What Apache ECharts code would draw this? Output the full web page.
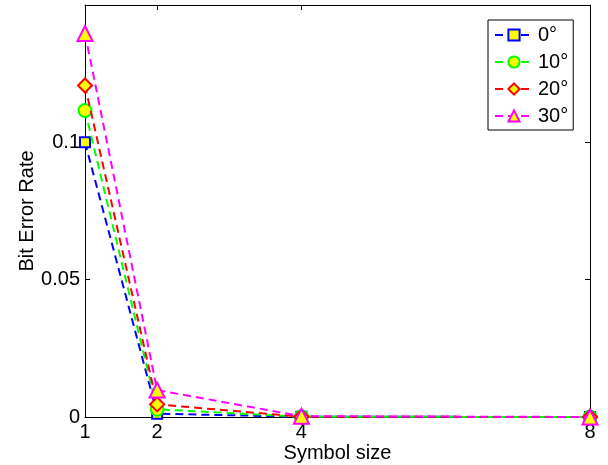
<!DOCTYPE html>
<html>
<head>
<meta charset="utf-8">
<script src="https://cdn.jsdelivr.net/npm/echarts@6/dist/echarts.min.js"></script>
<style>
  html, body { margin: 0; padding: 0; background: #fff; }
  #chart { width: 608px; height: 465px; }
</style>
</head>
<body>
<div id="chart"></div>
<script>
// symbol sizes on the x axis
const symbolSizes = [1, 2, 4, 8]
const angleNames = ['0°', '10°', '20°', '30°']

// bit error rate per angle
const ber0 = [0.1, 0.0012, 0.0001, 0]
const ber10 = [0.1116, 0.0028, 0.0001, 0]
const ber20 = [0.1207, 0.0046, 0.0001, 0]
const ber30 = [0.1396, 0.0098, 0.0003, 0]

const xTicks = [1, 2, 4, 8]
const yTicks = [0, 0.05, 0.1]

const font = 'Liberation Sans, Arial, Helvetica, sans-serif'

const styles = [
  { color: '#0000ff', symbol: 'rect', size: 10 },
  { color: '#00ff00', symbol: 'circle', size: 13 },
  { color: '#ff0000', symbol: 'diamond', size: 14 },
  { color: '#ff00ff', symbol: 'triangle', size: 15 }
]

const allBer = [ber0, ber10, ber20, ber30]

const chart = echarts.init(document.getElementById('chart'))

const series = allBer.map((vals, i) => ({
  name: angleNames[i],
  type: 'line',
  data: vals.map((v, j) => [symbolSizes[j], v]),
  symbol: styles[i].symbol,
  symbolSize: styles[i].size,
  showAllSymbol: true,
  lineStyle: { color: styles[i].color, width: 2, type: [8, 5] },
  itemStyle: { color: '#ffff00', borderColor: styles[i].color, borderWidth: 2 },
  emphasis: { disabled: true },
  animation: false,
  z: 2 + i
}))

const axisCommon = {
  axisLine: { show: true, onZero: false, lineStyle: { color: '#000', width: 1 } },
  axisTick: { show: true, inside: true, length: 5, lineStyle: { color: '#000' } },
  splitLine: { show: false }
}

chart.setOption({
  animation: false,
  textStyle: { fontFamily: font },
  grid: { left: 85, right: 18, top: 5, bottom: 48, outerBoundsMode: 'none', containLabel: false },
  legend: {
    orient: 'vertical',
    left: 488,
    top: 20,
    data: angleNames,
    itemWidth: 38,
    itemHeight: 14,
    itemGap: 7,
    padding: [5, 5, 4, 6],
    borderColor: '#000',
    borderWidth: 1,
    backgroundColor: '#fff',
    textStyle: { fontSize: 20, color: '#000', fontFamily: font }
  },
  xAxis: [
    {
      type: 'value',
      min: 1,
      max: 8,
      name: 'Symbol size',
      nameLocation: 'middle',
      nameGap: 26,
      nameMoveOverlap: false,
      nameTextStyle: { fontSize: 20, color: '#000' },
      ...axisCommon,
      axisTick: { ...axisCommon.axisTick, customValues: xTicks },
      axisLabel: { customValues: xTicks, fontSize: 20, color: '#000', margin: 5 }
    },
    {
      type: 'value',
      min: 1,
      max: 8,
      position: 'top',
      ...axisCommon,
      axisTick: { ...axisCommon.axisTick, customValues: xTicks },
      axisLabel: { show: false }
    }
  ],
  yAxis: [
    {
      type: 'value',
      min: 0,
      max: 0.15,
      name: 'Bit Error Rate',
      nameLocation: 'middle',
      nameGap: 48,
      nameMoveOverlap: false,
      nameRotate: 90,
      nameTextStyle: { fontSize: 20, color: '#000' },
      ...axisCommon,
      axisTick: { ...axisCommon.axisTick, customValues: yTicks },
      axisLabel: { customValues: yTicks, fontSize: 20, color: '#000', margin: 5 }
    },
    {
      type: 'value',
      min: 0,
      max: 0.15,
      position: 'right',
      ...axisCommon,
      axisTick: { ...axisCommon.axisTick, customValues: yTicks },
      axisLabel: { show: false }
    }
  ],
  series
})
</script>
</body>
</html>
